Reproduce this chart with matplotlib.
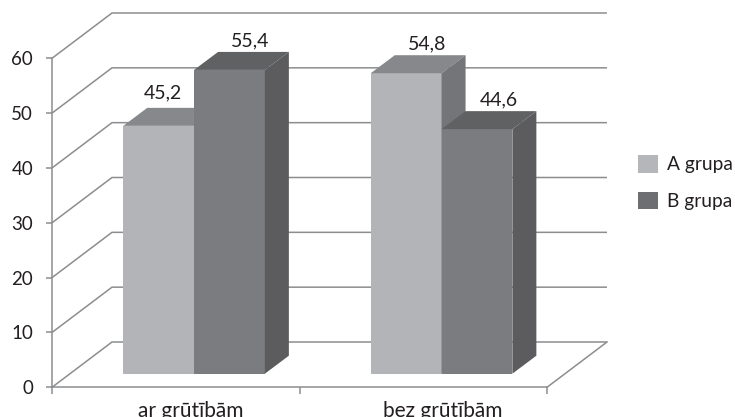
import numpy as np
import matplotlib
matplotlib.use('Agg')
import matplotlib.pyplot as plt
from matplotlib.patches import Patch, Polygon

categories = ['ar grūtībām', 'bez grūtībām']
group_a = [45.2, 54.8]
group_b = [55.4, 44.6]
series_names = ['A grupa', 'B grupa']
y_ticks = [0, 10, 20, 30, 40, 50, 60]

plt.rcParams['font.family'] = ['Lato', 'DejaVu Sans']

W, H = 735, 417
fig = plt.figure(figsize=(W / 100, H / 100), dpi=100, facecolor='white')

# axes = the front plane of the fake 3d box
left, right, bottom, top = 52, 547, 387.3, 58.3
ax = fig.add_axes([left / W, 1 - bottom / H, (right - left) / W, (bottom - top) / H])
ax.set_xlim(0, 2)
ax.set_ylim(0, 60)
ax.patch.set_visible(False)

px_x = 2 / (right - left)
px_y = 60 / (bottom - top)
grid_col = '#8c8d8f'
grid_lw = 1.1

# walls
wall_dx, wall_dy = 60 * px_x, 45.3 * px_y
for v in y_ticks:
    ax.plot([0, wall_dx, 2 + wall_dx], [v, v + wall_dy, v + wall_dy], color=grid_col,
            lw=grid_lw, clip_on=False, zorder=1, solid_capstyle='butt', solid_joinstyle='miter')
ax.plot([2, 2 + wall_dx], [0, wall_dy], color=grid_col, lw=grid_lw, clip_on=False, zorder=1)

# bars
bar_w = 70.8 * px_x
depth_dx, depth_dy = 24 * px_x, 18 * px_y
floor = 13.6 * px_y
centers = np.arange(len(categories)) + 0.574


def draw_bars(xs, values, front, top_col, side):
    bars = ax.bar(xs, np.array(values), bar_w, bottom=floor, color=front, linewidth=0, zorder=3)
    for b in bars:
        x0, x1 = b.get_x(), b.get_x() + b.get_width()
        y0, y1 = b.get_y(), b.get_y() + b.get_height()
        ax.add_patch(Polygon([(x0, y1), (x1, y1), (x1 + depth_dx, y1 + depth_dy), (x0 + depth_dx, y1 + depth_dy)],
                             closed=True, fc=top_col, ec='none', zorder=2.5, clip_on=False))
        ax.add_patch(Polygon([(x1, y0), (x1 + depth_dx, y0 + depth_dy), (x1 + depth_dx, y1 + depth_dy), (x1, y1)],
                             closed=True, fc=side, ec='none', zorder=2.5, clip_on=False))
    return bars


bars_a = draw_bars(centers - bar_w / 2, group_a, '#b3b4b7', '#87888b', '#747578')
bars_b = draw_bars(centers + bar_w / 2, group_b, '#7b7c7f', '#606163', '#5c5c5e')
# B sits in front of A's side and top
for p in ax.patches[len(bars_a) * 3 - len(bars_a):]:
    p.set_zorder(3.2)

# value labels, offsets in points from the front top edge of each bar
label_offsets_a = [(3.4, 23.5), (15.4, 21.2)]
label_offsets_b = [(14.9, 21.2), (15.4, 21.2)]
for bars, vals, offs in [(bars_a, group_a, label_offsets_a), (bars_b, group_b, label_offsets_b)]:
    for b, v, off in zip(bars, vals, offs):
        ax.annotate(f'{v:.1f}'.replace('.', ','), (b.get_x() + b.get_width() / 2, floor + v),
                    xytext=off, textcoords='offset points', ha='center', va='center',
                    fontsize=14, color='#231f20', zorder=5, annotation_clip=False)

# axes lines and ticks
for s in ['top', 'right']:
    ax.spines[s].set_visible(False)
for s in ['left', 'bottom']:
    ax.spines[s].set_color(grid_col)
    ax.spines[s].set_linewidth(grid_lw)
ax.set_yticks(y_ticks)
ax.set_xticks([0, 1, 2])
ax.set_xticklabels([])
ax.set_xticks([0.56, 1.58], labels=categories, minor=True)
ax.tick_params(axis='y', length=4, width=grid_lw, color=grid_col, labelsize=13.5, labelcolor='#231f20', pad=9.6)
ax.tick_params(axis='x', which='major', length=5, width=grid_lw, color=grid_col)
ax.tick_params(axis='x', which='minor', length=0, labelsize=15, labelcolor='#231f20', pad=10)

handles = [Patch(fc='#b5b6b9', ec='none'), Patch(fc='#6d6e71', ec='none')]
fig.legend(handles, series_names, loc='center left', bbox_to_anchor=(638 / W, 1 - 182.5 / H),
           frameon=False, fontsize=13.8, handlelength=1.04, handleheight=1.04,
           handletextpad=0.47, labelspacing=0.95, borderpad=0, borderaxespad=0, labelcolor='#231f20')

fig.savefig('out.png', dpi=100)
